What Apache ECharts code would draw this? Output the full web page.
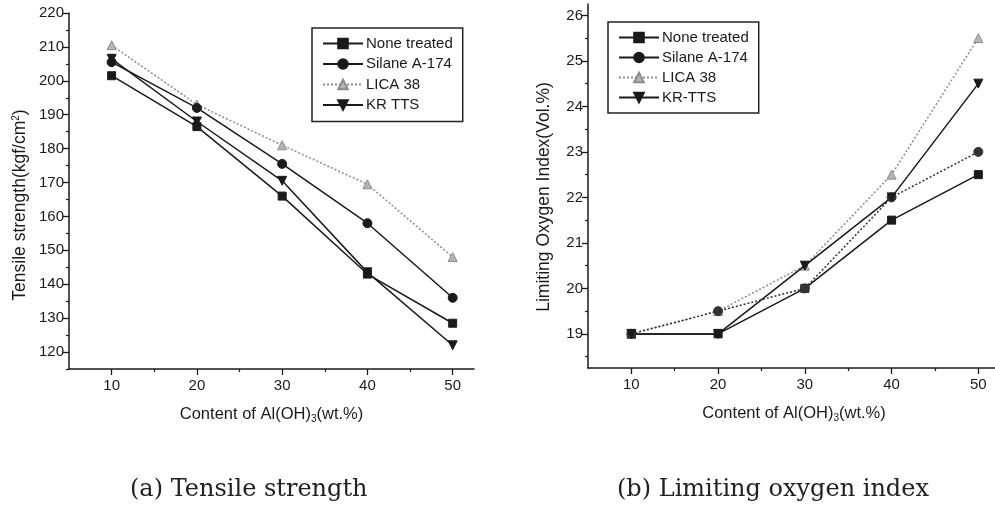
<!DOCTYPE html>
<html>
<head>
<meta charset="utf-8">
<script src="https://cdn.jsdelivr.net/npm/echarts@6/dist/echarts.min.js"></script>
<style>
  html, body { margin: 0; padding: 0; background: #fff; }
  #chart { width: 995px; height: 512px; }
</style>
</head>
<body>
<div id="chart"></div>
<script>
// x categories (wt.% of Al(OH)3)
const content = [10, 20, 30, 40, 50];
const seriesNames = ['None treated', 'Silane A-174', 'LICA 38', 'KR TTS'];
const seriesNamesB = ['None treated', 'Silane A-174', 'LICA 38', 'KR-TTS'];

// (a) tensile strength, kgf/cm2
const tsNone = [201.5, 186.5, 166, 143, 128.5];
const tsSilane = [205.5, 192, 175.5, 158, 136];
const tsLica = [210.5, 193, 181, 169.5, 148];
const tsKr = [206.5, 188, 170.5, 143.5, 122];

// (b) limiting oxygen index, vol.%
const loiNone = [19, 19, 20, 21.5, 22.5];
const loiSilane = [19, 19.5, 20, 22, 23];
const loiLica = [19, 19.5, 20.5, 22.5, 25.5];
const loiKr = [19, 19, 20.5, 22, 24.5];

// tick labels
const xTicks = [10, 20, 30, 40, 50];
const xMinor = [15, 25, 35, 45];
const tsTicks = [120, 130, 140, 150, 160, 170, 180, 190, 200, 210, 220];
const tsMinor = [115, 125, 135, 145, 155, 165, 175, 185, 195, 205, 215];
const loiTicks = [19, 20, 21, 22, 23, 24, 25, 26];
const loiMinor = [18.5, 19.5, 20.5, 21.5, 22.5, 23.5, 24.5, 25.5];

const ink = '#1a1a1a';
const grey = '#8c8c8c';
const font = 'Liberation Sans';

const chart = echarts.init(document.getElementById('chart'));

const pairs = arr => content.map((c, i) => [c, arr[i]]);

const lineSeries = (name, data, grid, opts) => ({
    name: name,
    type: 'line',
    xAxisIndex: grid * 2,
    yAxisIndex: grid * 2,
    data: pairs(data),
    symbol: opts.symbol,
    symbolRotate: opts.rotate || 0,
    symbolSize: opts.size || 9,
    showAllSymbol: true,
    animation: false,
    z: opts.z || 3,
    lineStyle: { color: opts.color, width: 1.5, type: opts.dash || 'solid' },
    itemStyle: { color: opts.fill || opts.color, borderColor: opts.color, borderWidth: 1 }
});

const xMain = (grid, name) => ({
    type: 'value', gridIndex: grid, min: 5, max: 52.5,
    axisLine: { lineStyle: { color: ink, width: 1.5 } },
    axisTick: { customValues: xTicks, length: 6, lineStyle: { color: ink, width: 1.3 } },
    axisLabel: { customValues: xTicks, color: ink, fontFamily: font, fontSize: 15, margin: 9 },
    splitLine: { show: false },
    name: name, nameLocation: 'middle', nameGap: 36,
    nameTextStyle: {
        color: ink, fontFamily: font, fontSize: 16.5,
        rich: { sub: { fontFamily: font, fontSize: 10, color: ink, verticalAlign: 'bottom', padding: [9, 0, 0, 0] } }
    }
});
const xMinorAxis = grid => ({
    type: 'value', gridIndex: grid, min: 5, max: 52.5, position: 'bottom',
    axisLine: { show: false },
    axisTick: { customValues: xMinor, length: 3, lineStyle: { color: ink, width: 1.2 } },
    axisLabel: { show: false },
    splitLine: { show: false }
});
const yMain = (grid, min, max, ticks, name, nameGap, shift) => ({
    type: 'value', gridIndex: grid, min: min, max: max,
    axisLine: { show: true, lineStyle: { color: ink, width: 1.5 } },
    axisTick: { show: true, customValues: ticks, length: 6, lineStyle: { color: ink, width: 1.3 } },
    axisLabel: { customValues: ticks, color: ink, fontFamily: font, fontSize: 15, margin: 5 },
    splitLine: { show: false },
    name: name, nameLocation: 'middle', nameGap: nameGap, nameRotate: 90,
    nameTextStyle: {
        color: ink, fontFamily: font, fontSize: 17.5, padding: [0, shift, 0, 0],
        rich: { sup: { fontFamily: font, fontSize: 10, color: ink, verticalAlign: 'top', padding: [0, 0, 9, 0] } }
    }
});
const yMinorAxis = (grid, min, max, ticks) => ({
    type: 'value', gridIndex: grid, min: min, max: max, position: 'left',
    axisLine: { show: false },
    axisTick: { show: true, customValues: ticks, length: 3, lineStyle: { color: ink, width: 1.2 } },
    axisLabel: { show: false },
    splitLine: { show: false }
});

const legendBox = (left, top, names, gap, pad) => ({
    left: left, top: top, orient: 'vertical',
    data: names,
    itemWidth: 40, itemHeight: 12, itemGap: gap,
    padding: pad,
    borderColor: '#222', borderWidth: 1.5,
    textStyle: { color: ink, fontFamily: font, fontSize: 15, padding: [0, 0, 0, -2] },
    selectedMode: false
});

chart.setOption({
    backgroundColor: '#fff',
    animation: false,
    grid: [
        { left: 69, top: 13, width: 405, height: 356, outerBoundsMode: 'none' },
        { left: 588, top: 4, width: 412, height: 364, outerBoundsMode: 'none' }
    ],
    xAxis: [
        xMain(0, 'Content of Al(OH){sub|3}(wt.%)'),
        xMinorAxis(0),
        xMain(1, 'Content of Al(OH){sub|3}(wt.%)'),
        xMinorAxis(1)
    ],
    yAxis: [
        yMain(0, 115, 220, tsTicks, 'Tensile strength(kgf/cm{sup|2})', 39, 28),
        yMinorAxis(0, 115, 220, tsMinor),
        yMain(1, 18.25, 26.25, loiTicks, 'Limiting Oxygen Index(Vol.%)', 35, 22),
        yMinorAxis(1, 18.25, 26.25, loiMinor)
    ],
    legend: [
        Object.assign(legendBox(312, 28, seriesNames, 5.5, [8, 10, 9, 10]), { id: 'la' }),
        Object.assign(legendBox(608, 22, seriesNamesB, 5, [8, 10, 8, 10]), { id: 'lb' })
    ],
    series: [
        lineSeries(seriesNames[2], tsLica, 0, { symbol: 'triangle', color: grey, fill: '#b5b5b5', dash: [2, 2], z: 2 }),
        lineSeries(seriesNames[0], tsNone, 0, { symbol: 'rect', color: ink, size: 8 }),
        lineSeries(seriesNames[1], tsSilane, 0, { symbol: 'circle', color: ink }),
        lineSeries(seriesNames[3], tsKr, 0, { symbol: 'triangle', rotate: 180, color: ink }),

        lineSeries(seriesNamesB[2], loiLica, 1, { symbol: 'triangle', color: grey, fill: '#b5b5b5', dash: [2, 2], z: 2 }),
        lineSeries(seriesNamesB[0], loiNone, 1, { symbol: 'rect', color: ink, size: 8 }),
        lineSeries(seriesNamesB[1], loiSilane, 1, { symbol: 'circle', color: '#333', dash: [2, 2] }),
        lineSeries(seriesNamesB[3], loiKr, 1, { symbol: 'triangle', rotate: 180, color: ink })
    ],
    graphic: [
        {
            type: 'text', top: 478, left: 130,
            style: { text: '(a) Tensile strength', font: '24px "DejaVu Serif"', fill: '#222' }
        },
        {
            type: 'text', top: 478, left: 617,
            style: { text: '(b) Limiting oxygen index', font: '24px "DejaVu Serif"', fill: '#222' }
        }
    ]
});
</script>
</body>
</html>
